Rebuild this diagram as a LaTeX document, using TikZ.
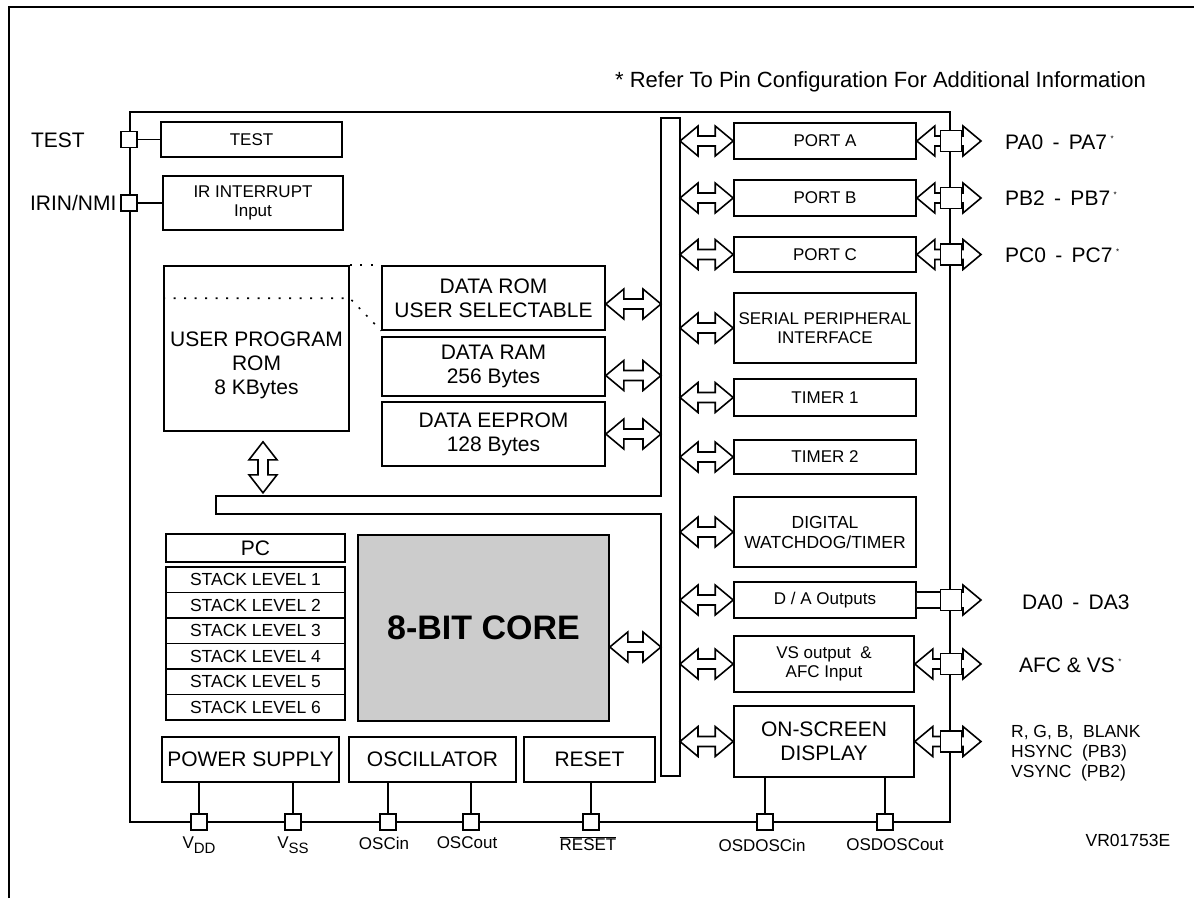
\documentclass[tikz,border=0pt]{standalone}
\usepackage{fontspec}
\setmainfont{Liberation Sans}
\usepackage{tikz}
\usetikzlibrary{positioning,calc}

% 空心双向箭头: #1 左端, #2 右端
\newcommand{\dblarr}[2]{%
  \draw[fill=white] #1 -- ($#1+(18,-15)$) -- ($#1+(18,-5)$) -- ($#2+(-18,-5)$) -- ($#2+(-18,-15)$) -- #2
    -- ($#2+(-18,15)$) -- ($#2+(-18,5)$) -- ($#1+(18,5)$) -- ($#1+(18,15)$) -- cycle;}
% 竖直双向箭头: #1 上端, #2 下端
\newcommand{\vdblarr}[2]{%
  \draw[fill=white] #1 -- ($#1+(14,18)$) -- ($#1+(5,18)$) -- ($#2+(5,-18)$) -- ($#2+(14,-18)$) -- #2
    -- ($#2+(-14,-18)$) -- ($#2+(-5,-18)$) -- ($#1+(-5,18)$) -- ($#1+(-14,18)$) -- cycle;}
% 单向箭头(向右)
\newcommand{\rarr}[2]{%
  \draw[fill=white] ($#1+(0,-8)$) -- ($#2+(-18,-8)$) -- ($#2+(-18,-15)$) -- #2
    -- ($#2+(-18,15)$) -- ($#2+(-18,8)$) -- ($#1+(0,8)$);}
\newcommand{\pinstar}{\,\raisebox{8pt}{\fontsize{8}{8}\selectfont *}}

\begin{document}
\begin{tikzpicture}[x=1pt, y=-1pt, line width=1.6pt,
    box/.style={draw, fill=white, inner sep=0pt, align=center},
    bigf/.style={font=\fontsize{21}{24}\selectfont},
    smf/.style={font=\fontsize{17}{19.5}\selectfont},
    midf/.style={font=\fontsize{17.5}{20}\selectfont},
    pin/.style={draw, fill=white, minimum size=16pt, inner sep=0pt},
    rpin/.style={pin, minimum size=21pt}]
	\useasboundingbox (0,0) rectangle (1194,898);

	% 外框
	\draw[line width=2.2pt] (9,898) -- (9,7) -- (1194,7);
	\node[font=\fontsize{22}{24}\selectfont, anchor=east] (note) at (1150,82) {* Refer To Pin Configuration For Additional Information};

	% 芯片
	\node[draw, minimum width=820, minimum height=710, inner sep=0pt] (chip) at (540,467) {};

	% 左侧模块
	\node[box, smf, minimum width=181, minimum height=35] (testb) at (251.5,139.5) {TEST};
	\node[box, smf, minimum width=180, minimum height=54] (irb) at (253,203) {IR INTERRUPT\\Input};
	\node[box, minimum width=185, minimum height=165] (rom) at (256.5,348.5) {};
	\node[bigf, align=center] (romtxt) at ($(rom.center)+(0,17)$) {USER PROGRAM\\ROM\\8 KBytes};
	\node[box, bigf, minimum width=223, minimum height=64] (drom) at (493.5,298) {DATA ROM\\USER SELECTABLE};
	\node[box, bigf, minimum width=223, minimum height=59] (dram) at (493.5,366.5) {DATA RAM\\256 Bytes};
	\node[box, bigf, minimum width=223, minimum height=64] (deep) at (493.5,434) {DATA EEPROM\\128 Bytes};
	\draw[dash pattern=on 2pt off 8.5pt] (rom.north east) -- (drom.north west);
	\draw[dash pattern=on 2pt off 8.5pt] ($(rom.north west)+(0,33)$) -- ($(rom.north east)+(0,33)$) -- (drom.south west);

	\node[box, bigf, minimum width=179, minimum height=28] (pc) at (255.5,548) {PC};
	\foreach \i in {1,...,6} {
			\node[box, midf, minimum width=179, minimum height=25.5] (sl\i) at (255.5,{554.25+25.5*\i}) {STACK LEVEL \i};
		}
	\node[box, fill=black!20, minimum width=251, minimum height=186,
		font=\fontsize{34}{34}\bfseries\selectfont] (core) at (483.5,628) {8-BIT CORE};

	\node[box, bigf, minimum width=177, minimum height=45] (psu) at (250.5,759.5) {POWER SUPPLY};
	\node[box, bigf, minimum width=167, minimum height=45] (osc) at (432.5,759.5) {OSCILLATOR};
	\node[box, bigf, minimum width=131, minimum height=45] (rst) at (589.5,759.5) {RESET};

	% 总线
	\draw[fill=white] (216,496) -- (661,496) -- (661,118) -- (680,118) -- (680,776) -- (661,776) -- (661,514) -- (216,514) -- cycle;
	\coordinate (busL) at (661,447);
	\coordinate (busR) at (680,447);

	% 右侧外设
	\node[box, smf, minimum width=182, minimum height=36] (porta) at (825,141) {PORT A};
	\node[box, smf, minimum width=182, minimum height=36] (portb) at (825,198) {PORT B};
	\node[box, smf, minimum width=182, minimum height=35] (portc) at (825,254.5) {PORT C};
	\node[box, smf, minimum width=182, minimum height=70] (spi) at (825,328) {SERIAL PERIPHERAL\\INTERFACE};
	\node[box, smf, minimum width=182, minimum height=37] (tim1) at (825,397.5) {TIMER 1};
	\node[box, smf, minimum width=182, minimum height=34] (tim2) at (825,457) {TIMER 2};
	\node[box, midf, minimum width=182, minimum height=70] (wdt) at (825,532) {DIGITAL\\WATCHDOG/TIMER};
	\node[box, smf, minimum width=182, minimum height=36] (dac) at (825,600) {D / A Outputs};
	\node[box, smf, minimum width=180, minimum height=56] (vsafc) at (824,664) {VS output \ \&\\AFC Input};
	\node[box, bigf, minimum width=180, minimum height=71] (osd) at (824,741.5) {ON-SCREEN\\DISPLAY};

	% 箭头
	\coordinate (romarr) at ($(rom.south)+(6.5,10)$);
	\coordinate (romarr2) at ($(romarr)+(0,51)$);
	\vdblarr{(romarr)}{(romarr2)}
	\coordinate (dromarr) at ($(drom.east)+(0,6)$);
	\coordinate (dramarr) at ($(dram.east)+(0,9)$);
	\coordinate (coarr) at ($(core.east)+(0,19)$);
	\foreach \a in {dromarr,dramarr,deep.east,coarr} {
			\dblarr{(\a)}{(busL |- \a)}
		}
	\foreach \b in {porta,portb,portc,spi,tim1,tim2,wdt,dac,vsafc,osd} {
			\dblarr{(busR |- \b.west)}{(\b.west)}
		}
	\coordinate (rtip) at (981,447);
	\foreach \b in {porta,portb,portc,vsafc,osd} {
			\dblarr{(\b.east)}{(rtip |- \b.east)}
			\node[rpin] (p\b) at (chip.east |- \b.east) {};
		}
	\rarr{(dac.east)}{(rtip |- dac.east)}
	\node[rpin] (pdac) at (chip.east |- dac.east) {};

	% 左侧引脚
	\node[pin] (ptest) at (chip.west |- testb.west) {};
	\node[pin] (pir) at (chip.west |- irb.west) {};
	\draw (ptest) -- (testb);
	\draw (pir) -- (irb);
	\node[bigf, anchor=west] (ltest) at (27,140) {TEST};
	\node[bigf, anchor=west] (lir) at (26,203) {IRIN/NMI};

	% 底部引脚
	\foreach \n/\x/\blk in {vdd/199/psu, vss/293/psu, oscin/388/osc, oscout/471/osc, rst/591/rst, osdin/765/osd, osdout/885/osd} {
			\node[pin] (p\n) at (\x,822) {};
			\draw (\blk.south -| p\n) -- (p\n);
		}
	\node[font=\fontsize{17}{17}\selectfont] (lvdd) at (199,845) {V\raisebox{-5pt}{\fontsize{15}{15}\selectfont DD}};
	\node[font=\fontsize{17}{17}\selectfont] (lvss) at (293,845) {V\raisebox{-5pt}{\fontsize{15}{15}\selectfont SS}};
	\node[font=\fontsize{17}{17}\selectfont] (loscin) at (384,843) {OSCin};
	\node[font=\fontsize{17}{17}\selectfont] (loscout) at (467,843) {OSCout};
	\node[font=\fontsize{17}{17}\selectfont] (lrst) at (588,844) {$\overline{\mbox{RESET}}$};
	\node[font=\fontsize{17}{17}\selectfont] (losdin) at (762,845) {OSDOSCin};
	\node[font=\fontsize{17}{17}\selectfont] (losdout) at (895,845) {OSDOSCout};

	% 右侧标注
	\node[bigf, anchor=west] (lpa) at (1001,142) {PA0 \,-\, PA7\pinstar};
	\node[bigf, anchor=west] (lpb) at (1001,198) {PB2 \,-\, PB7\pinstar};
	\node[bigf, anchor=west] (lpc) at (1001,255) {PC0 \,-\, PC7\pinstar};
	\node[bigf, anchor=west] (lda) at (1018,602) {DA0 \,-\, DA3};
	\node[bigf, anchor=west] (lafc) at (1015,665) {AFC \& VS\pinstar};
	\node[midf, anchor=west, align=left] (losd) at (1007,753) {R, G, B, \ BLANK\\HSYNC \ (PB3)\\VSYNC \ (PB2)};
	\node[midf] (vr) at (1128,840) {VR01753E};
\end{tikzpicture}
\end{document}
